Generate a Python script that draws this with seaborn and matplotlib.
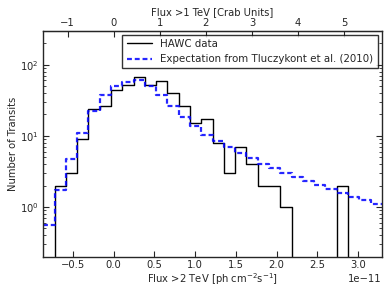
import numpy as np
import pandas as pd
import matplotlib
matplotlib.use("Agg")
import matplotlib.pyplot as plt
import seaborn as sns

# binned flux values (units of 1e-11 ph cm^-2 s^-1)
bin_width = 0.1385
hawc_start = -0.725
hawc_counts = [2, 3, 9, 24, 26, 44, 52, 68, 52, 59, 40, 26, 15, 17, 8, 3, 7, 4,
               2, 2, 1, 0, 0, 0, 0, 2]
expect_start = -0.8635
expect_counts = [0.555, 1.71, 4.75, 11, 22, 37.3, 51, 58, 60, 51, 37.5, 26.5,
                 18.1, 13.7, 10.4, 8.4, 7.06, 5.8, 4.84, 4.05, 3.5, 3.0, 2.63,
                 2.31, 2.06, 1.79, 1.57, 1.38, 1.24, 1.11]
crab_unit = 0.566  # 1 Crab (>1 TeV) in flux >2 TeV units
crab_ticks = [-1, 0, 1, 2, 3, 4, 5]

sns.set_style("ticks")
plt.rcParams["font.family"] = ["DejaVu Sans"]
plt.rcParams["font.size"] = 7.2
plt.rcParams["mathtext.fontset"] = "dejavusans"


def binned(start, counts, pad=True):
    # pad with empty bins so the outline drops to the axis
    counts = list(counts)
    if pad:
        counts = [0] + counts + [0]
        start = start - bin_width
    edges = (start + bin_width * np.arange(len(counts) + 1)) * 1e-11
    centers = (edges[:-1] + edges[1:]) / 2
    return pd.DataFrame({"flux": centers, "n": counts}), list(edges)


hawc_df, hawc_edges = binned(hawc_start, hawc_counts)
exp_df, exp_edges = binned(expect_start, expect_counts, pad=False)

fig = plt.figure(figsize=(3.9, 2.93), dpi=100)
ax = fig.add_axes([0.111, 0.124, 0.868, 0.771])

sns.histplot(data=hawc_df, x="flux", weights="n", bins=hawc_edges, element="step",
             fill=False, color="black", lw=1.0, ax=ax, label="HAWC data")
sns.histplot(data=exp_df, x="flux", weights="n", bins=exp_edges, element="step",
             fill=False, color="#0000ff", alpha=0.85, lw=1.6, ls=(0, (2.2, 1.3)),
             ax=ax, label="Expectation from Tluczykont et al. (2010)")

ax.set_yscale("log")
ax.set_ylim(0.2, 300)
ax.set_xlim(exp_edges[0], exp_edges[-1])
ax.set_xticks(np.arange(-0.5, 3.01, 0.5) * 1e-11)
ax.set_xlabel(r"Flux >2 TeV [ph cm$^{-2}$s$^{-1}$]", labelpad=1)
ax.set_ylabel("Number of Transits", labelpad=1)
ax.tick_params(which="both", direction="in", top=False, right=True, labelsize=7.2)
ax.tick_params(axis="x", pad=2.5)
ax.tick_params(which="major", length=4)
ax.tick_params(which="minor", length=2)
for sp in ax.spines.values():
    sp.set_linewidth(1.0)

top = ax.secondary_xaxis("top", functions=(lambda f: f / (crab_unit * 1e-11),
                                           lambda c: c * crab_unit * 1e-11))
top.set_xticks(crab_ticks)
top.set_xlabel("Flux >1 TeV [Crab Units]", labelpad=2)
top.tick_params(direction="in", length=4, labelsize=7.2, pad=2)

leg = ax.legend(loc="upper right", fontsize=7.4, frameon=True, fancybox=False,
                edgecolor="black", borderaxespad=0.4, handlelength=2.5)
leg.get_frame().set_linewidth(1.0)

fig.savefig("out.png", dpi=100)
